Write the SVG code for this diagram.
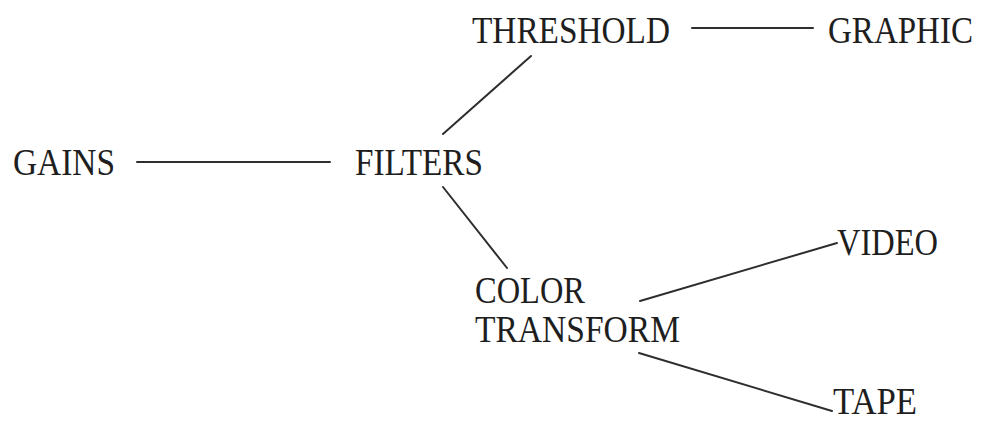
<svg xmlns="http://www.w3.org/2000/svg" width="993" height="423" viewBox="0 0 993 423">
  <style>
    .lbl { font-family: "Liberation Serif", "Times New Roman", serif; font-size: 37px; fill: #1e1e1e; }
    .edge { stroke: #2e2e2e; stroke-width: 2; stroke-linecap: round; fill: none; }
  </style>
  <rect width="993" height="423" fill="#ffffff"/>

  <g id="connectors">
    <line class="edge" x1="692" y1="28" x2="813" y2="28"/>
    <line class="edge" x1="443" y1="134" x2="531" y2="56"/>
    <line class="edge" x1="137" y1="162" x2="330" y2="162"/>
    <line class="edge" x1="443" y1="187" x2="507" y2="268"/>
    <line class="edge" x1="640" y1="301" x2="837" y2="243"/>
    <line class="edge" x1="639" y1="353" x2="832" y2="411"/>
  </g>

  <g id="node-threshold">
    <text class="lbl" x="472" y="43" textLength="198" lengthAdjust="spacingAndGlyphs">THRESHOLD</text>
  </g>
  <g id="node-graphic">
    <text class="lbl" x="828" y="43" textLength="145" lengthAdjust="spacingAndGlyphs">GRAPHIC</text>
  </g>
  <g id="node-gains">
    <text class="lbl" x="13" y="175" textLength="102" lengthAdjust="spacingAndGlyphs">GAINS</text>
  </g>
  <g id="node-filters">
    <text class="lbl" x="355" y="175" textLength="128" lengthAdjust="spacingAndGlyphs">FILTERS</text>
  </g>
  <g id="node-color-transform">
    <text class="lbl" x="475" y="303" textLength="110" lengthAdjust="spacingAndGlyphs">COLOR</text>
    <text class="lbl" x="475" y="342" textLength="205" lengthAdjust="spacingAndGlyphs">TRANSFORM</text>
  </g>
  <g id="node-video">
    <text class="lbl" x="837" y="255" textLength="101" lengthAdjust="spacingAndGlyphs">VIDEO</text>
  </g>
  <g id="node-tape">
    <text class="lbl" x="833" y="414" textLength="84" lengthAdjust="spacingAndGlyphs">TAPE</text>
  </g>
</svg>
